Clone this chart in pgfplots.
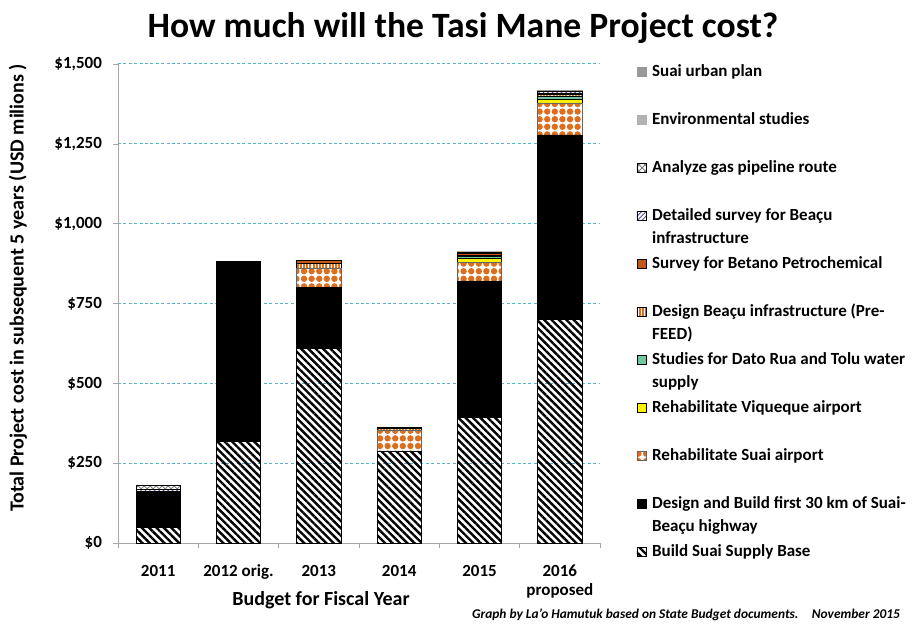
\documentclass[border=0pt]{standalone}
\usepackage{pgfplots}
\pgfplotsset{compat=1.18}
\usetikzlibrary{patterns,patterns.meta}
\usepackage{fontspec}
\setmainfont{Carlito}
\definecolor{gridc}{RGB}{90,180,200}
\definecolor{orng}{RGB}{220,110,30}
\definecolor{betano}{RGB}{195,90,25}
\definecolor{datorua}{RGB}{110,200,160}
\definecolor{purp}{RGB}{90,80,150}
\newcommand{\two}[2]{\begin{tabular}[t]{@{}l@{}}#1\\#2\end{tabular}}
\begin{document}
\begin{tikzpicture}
\begin{axis}[
  width=241pt, height=239.5pt, scale only axis,
  ybar stacked, bar width=0.55,
  xmin=-0.5, xmax=5.5, ymin=0, ymax=1500,
  axis x line*=bottom, axis y line*=left,
  axis line style={gray!70},
  xtick={0,...,5},
  xticklabels={2011,2012 orig.,2013,2014,2015,{2016\\proposed}},
  xticklabel style={align=center, font=\fontsize{8.5}{9.5}\selectfont\bfseries, yshift=-5pt},
  major x tick style={draw=none},
  minor xtick={-0.5,0.5,...,5.5},
  minor x tick style={gray!70},
  ytick={0,250,...,1500},
  yticklabels={\$0,\$250,\$500,\$750,{\$1,000},{\$1,250},{\$1,500}},
  yticklabel style={font=\fontsize{8.5}{9.5}\selectfont\bfseries, xshift=-2pt},
  ytick style={gray!70},
  tick align=outside, major tick length=2.5pt, minor tick length=2.5pt,
  ymajorgrids, grid style={gridc, dash pattern=on 1.5pt off 1.2pt, line width=0.5pt},
  /pgf/number format/assume math mode=true,
  legend style={draw=none, at={(1.075,1.003)}, anchor=north west, inner sep=0pt,
    row sep=0pt, column sep=3pt, font=\fontsize{8.5}{11.5}\selectfont\bfseries,
    nodes={text height=7pt, text depth=17pt, inner sep=0pt}},
  legend cell align=left,
  legend image code/.code={\draw[#1, line width=0.3pt] (0pt,5.3pt) rectangle (4.5pt,9.8pt);},
  reverse legend,
  every axis plot/.append style={draw=black, line width=0.3pt},
]
% Build Suai Supply Base
\addplot[fill=white, pattern={Lines[angle=-45, distance=2.6pt, line width=1.2pt]}, pattern color=black] coordinates {
 (0,50) (1,317) (2,610) (3,288) (4,395) (5,700)};
% Design and Build highway
\addplot[fill=black] coordinates {
 (0,112) (1,561) (2,190) (3,0) (4,426) (5,578)};
% Rehabilitate Suai airport
\addplot[pattern={Dots[distance=3.8pt, radius=1.6pt]}, pattern color=orng, draw=black!60] coordinates {
 (0,0) (1,0) (2,60) (3,64) (4,57) (5,100)};
% Rehabilitate Viqueque airport
\addplot[fill=yellow] coordinates {
 (0,0) (1,0) (2,0) (3,0) (4,13) (5,12)};
% Studies Dato Rua
\addplot[fill=datorua] coordinates {
 (0,0) (1,0) (2,0) (3,0) (4,6) (5,10)};
% Design Beacu Pre-FEED
\addplot[pattern={Lines[angle=90, distance=1.6pt, line width=1pt]}, pattern color=orng] coordinates {
 (0,0) (1,0) (2,16) (3,6) (4,5) (5,4)};
% Survey Betano
\addplot[fill=betano] coordinates {
 (0,0) (1,5) (2,8) (3,4) (4,4) (5,3)};
% Detailed survey Beacu
\addplot[pattern={Lines[angle=45, distance=1.6pt, line width=0.5pt]}, pattern color=purp] coordinates {
 (0,6) (1,0) (2,0) (3,0) (4,4) (5,6)};
% Analyze gas pipeline route
\addplot[pattern=crosshatch, pattern color=gray] coordinates {
 (0,12) (1,0) (2,0) (3,0) (4,0) (5,0)};
% Environmental studies
\addplot[fill=gray!60, draw=gray!60] coordinates {
 (0,0) (1,0) (2,0) (3,0) (4,2) (5,2)};
% Suai urban plan
\addplot[fill=gray!80, draw=gray!80] coordinates {
 (0,0) (1,0) (2,0) (3,0) (4,0) (5,2)};
\legend{Build Suai Supply Base,
 {\two{Design and Build first 30 km of Suai-}{Beaçu highway}},
 Rehabilitate Suai airport,
 Rehabilitate Viqueque airport,
 {\two{Studies for Dato Rua and Tolu water}{supply}},
 {\two{Design Beaçu infrastructure (Pre-}{FEED)}},
 Survey for Betano Petrochemical,
 {\two{Detailed survey for Beaçu}{infrastructure}},
 Analyze gas pipeline route,
 Environmental studies,
 Suai urban plan}
\end{axis}
\node[font=\fontsize{17.8}{20}\selectfont\bfseries, anchor=base] at (172.5pt,252.5pt) {How much will the Tasi Mane Project cost?};
\node[font=\fontsize{10}{12}\selectfont\bfseries, rotate=90, anchor=center] at (-50pt,127.5pt) {Total Project cost in subsequent 5 years (USD milions )};
\node[font=\fontsize{10}{12}\selectfont\bfseries, anchor=base] at (101.5pt,-31pt) {Budget for Fiscal Year};
\node[font=\fontsize{6.7}{8}\selectfont\bfseries\itshape, anchor=base east] at (394.5pt,-37.5pt) {Graph by La'o Hamutuk based on State Budget documents.\quad November 2015};
\pgfresetboundingbox
\path (-59pt,-46.5pt) rectangle (403pt,271.5pt);
\end{tikzpicture}
\end{document}
